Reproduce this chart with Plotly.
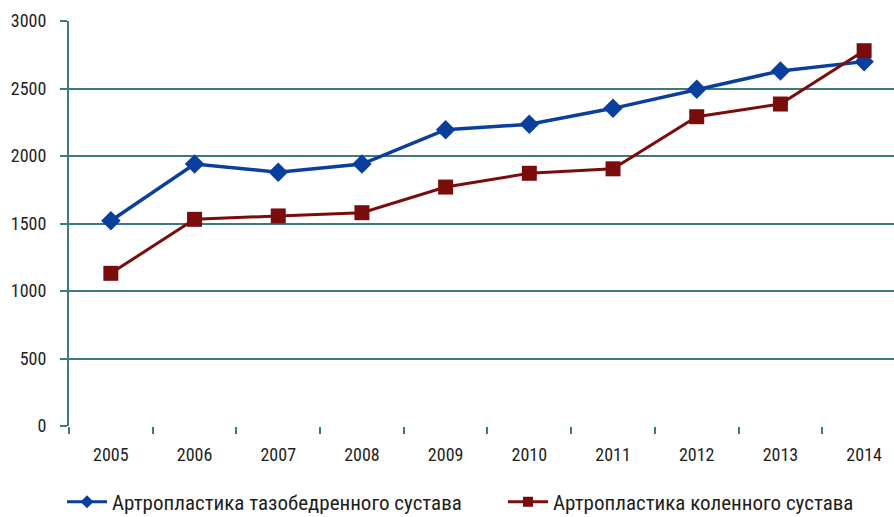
import plotly.graph_objects as go

years = ["2005", "2006", "2007", "2008", "2009", "2010", "2011", "2012", "2013", "2014"]
hip = [1520, 1940, 1880, 1940, 2195, 2235, 2353, 2494, 2630, 2699]
knee = [1131, 1531, 1556, 1580, 1770, 1872, 1905, 2291, 2385, 2780]
hip_name = "Артропластика тазобедренного сустава"
knee_name = "Артропластика коленного сустава"

FONT = "Roboto Condensed, Liberation Sans Narrow, Arial Narrow, sans-serif"
GRID = "#3d7a7c"
BLUE = "#0b3f9e"
RED = "#7b0c0c"

fig = go.Figure()
fig.add_trace(go.Scatter(
    x=years, y=hip, name=hip_name, mode="lines+markers", showlegend=False,
    line=dict(color=BLUE, width=3.5),
    marker=dict(symbol="diamond", size=15, color=BLUE),
))
fig.add_trace(go.Scatter(
    x=years, y=knee, name=knee_name, mode="lines+markers", showlegend=False,
    line=dict(color=RED, width=3),
    marker=dict(symbol="square", size=15, color=RED),
))
# legend entries (smaller symbols, as in the reference legend)
fig.add_trace(go.Scatter(
    x=[None], y=[None], name=hip_name, mode="lines+markers", legend="legend",
    line=dict(color=BLUE, width=3), marker=dict(symbol="diamond", size=10, color=BLUE),
))
fig.add_trace(go.Scatter(
    x=[None], y=[None], name=knee_name, mode="lines+markers", legend="legend2",
    line=dict(color=RED, width=3), marker=dict(symbol="square", size=10, color=RED),
))

leg_common = dict(
    orientation="h", xref="container", yref="container",
    y=0.029, xanchor="left", yanchor="middle",
    font=dict(size=21, color="#1e1e1e"), itemwidth=40,
    bgcolor="rgba(0,0,0,0)",
)

fig.update_layout(
    width=894, height=517,
    margin=dict(l=69, r=0, t=21, b=91, autoexpand=False),
    paper_bgcolor="white", plot_bgcolor="white",
    font=dict(family=FONT, size=18, color="#1e1e1e"),
    showlegend=True,
    legend=dict(x=62 / 894, **leg_common),
    legend2=dict(x=503 / 894, **leg_common),
    xaxis=dict(
        type="category", range=[-0.5, 9.357],
        tickson="boundaries", ticks="outside", ticklen=7, tickcolor=GRID, tickwidth=1.5,
        showgrid=False, showline=False, zeroline=False,
        ticklabelstandoff=16,
    ),
    yaxis=dict(
        range=[0, 3000], tickvals=[0, 500, 1000, 1500, 2000, 2500, 3000],
        showgrid=True, gridcolor=GRID, gridwidth=1.5,
        showline=True, linecolor=GRID, linewidth=2,
        ticks="outside", ticklen=7, tickcolor=GRID, tickwidth=1.5,
        zeroline=False, ticklabelstandoff=10,
    ),
)

fig.write_html("out.html")
